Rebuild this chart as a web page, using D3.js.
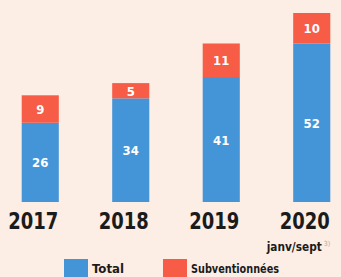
<!DOCTYPE html>
<html><head><meta charset="utf-8">
<script src="https://cdn.jsdelivr.net/npm/d3@7"></script>
<style>
html,body{margin:0;padding:0;background:#fcede5;}
svg{display:block;}
text{font-family:"DejaVu Sans Condensed","DejaVu Sans",sans-serif;font-stretch:condensed;}
</style></head>
<body>
<script>
const years = ["2017","2018","2019","2020"];
const totals = [26, 34, 41, 52];
const subsidized = [9, 5, 11, 10];
const seriesNames = ["Total", "Subventionnées"];
const subLabel = "janv/sept";
const subSup = "3)";

const W = 341, H = 277;
const colors = ["#4495d8", "#f65c46"];
const svg = d3.select("body").append("svg").attr("width", W).attr("height", H);
svg.append("rect").attr("width", W).attr("height", H).attr("fill", "#fcede5");

const x = d3.scaleBand().domain(years).range([-5, 357]).paddingInner(0.59).paddingOuter(0.295);
const y = d3.scaleLinear().domain([0, 62]).range([202, 13]);

const data = years.map((yr, i) => ({yr, t: totals[i], s: subsidized[i]}));

const g = svg.append("g");
g.selectAll(".tot").data(data).join("rect")
  .attr("x", d => x(d.yr)).attr("width", x.bandwidth())
  .attr("y", d => y(d.t)).attr("height", d => y(0) - y(d.t))
  .attr("fill", colors[0]);
g.selectAll(".sub").data(data).join("rect")
  .attr("x", d => x(d.yr)).attr("width", x.bandwidth())
  .attr("y", d => y(d.t + d.s)).attr("height", d => y(d.t) - y(d.t + d.s))
  .attr("fill", colors[1]);

g.selectAll(".tl").data(data).join("text")
  .attr("x", d => x(d.yr) + x.bandwidth()/2)
  .attr("y", d => (y(0) + y(d.t))/2 + 5)
  .attr("text-anchor","middle").attr("fill","#fff").attr("font-weight","bold")
  .attr("font-size", 13).text(d => d.t);
g.selectAll(".sl").data(data).join("text")
  .attr("x", d => x(d.yr) + x.bandwidth()/2)
  .attr("y", d => (y(d.t) + y(d.t + d.s))/2 + 5)
  .attr("text-anchor","middle").attr("fill","#fff").attr("font-weight","bold")
  .attr("font-size", 13).text(d => d.s);

// axis labels
const xAxis = d3.axisBottom(x).tickSize(0).tickPadding(0);
const ax = svg.append("g").attr("transform", "translate(-7,213)").call(xAxis);
ax.select(".domain").remove();
ax.selectAll("text").attr("font-size", 23).attr("font-weight","bold").attr("fill","#1b1b1b")
  .attr("dy", "0.71em").attr("textLength", 50).attr("lengthAdjust","spacingAndGlyphs")
  .attr("font-family", '"DejaVu Sans Condensed","DejaVu Sans",sans-serif');

// sub label under 2020 (single text with superscript tspan)
const sx = x("2020") + x.bandwidth()/2 - 45;
const st = svg.append("text")
  .attr("x", sx).attr("y", 251)
  .attr("font-size", 13).attr("font-weight","bold").attr("fill","#1b1b1b");
st.append("tspan").attr("textLength", 55).attr("lengthAdjust","spacingAndGlyphs").text(subLabel);
st.append("tspan").attr("dx", 2).attr("dy", -5).attr("font-size", 7).attr("font-weight","normal")
  .attr("fill","#aaa").text(subSup);

// legend
const leg = [{x: 64, name: seriesNames[0], c: colors[0], w: 32}, {x: 163, name: seriesNames[1], c: colors[1], w: 88}];
const lg = svg.append("g");
lg.selectAll("rect").data(leg).join("rect")
  .attr("x", d => d.x).attr("y", 259).attr("width", 24).attr("height", 18).attr("fill", d => d.c);
lg.selectAll("text").data(leg).join("text")
  .attr("x", d => d.x + 28).attr("y", 273).attr("font-size", 12).attr("font-weight","bold")
  .attr("textLength", d => d.w).attr("lengthAdjust","spacingAndGlyphs")
  .attr("fill","#1b1b1b").text(d => d.name);
</script>
</body></html>
